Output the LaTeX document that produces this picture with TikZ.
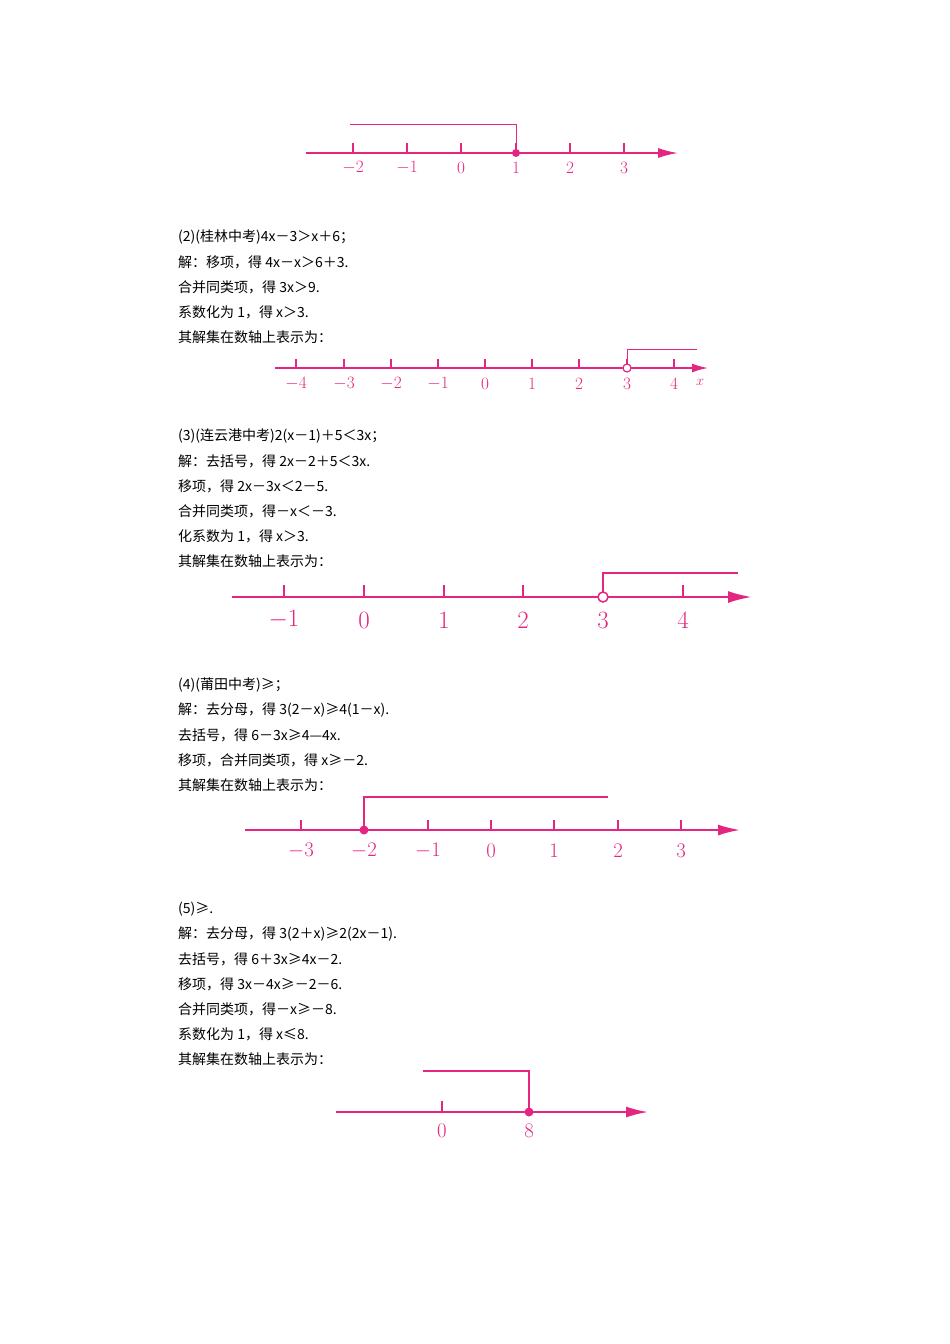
\documentclass[tikz,border=0pt]{standalone}
\usepackage{fontspec}
\newfontfamily\cjk{Noto Sans CJK SC}
\definecolor{mg}{RGB}{228,38,128}
\usetikzlibrary{arrows.meta}
\begin{document}
\begin{tikzpicture}[x=1pt,y=-1pt,
  txt/.style={anchor=west,inner sep=0pt,font=\cjk\fontsize{14}{16}\selectfont},
  ax/.style={draw=mg,line width=1.8pt,-{Latex[length=20pt,width=10pt]}},
  tk/.style={draw=mg,line width=1.2pt},
  br/.style={draw=mg,line width=0.9pt},
  lab/.style={text=mg,inner sep=0pt,anchor=center},
  fdot/.style={circle,fill=mg,inner sep=0pt,minimum size=8pt},
  odot/.style={circle,draw=mg,fill=white,line width=1.2pt,inner sep=0pt,minimum size=8pt}]
\useasboundingbox (0,0) rectangle (950,1344);
% ---- line 1
\draw[ax] (306,153) -- (678,153);
\foreach \x/\l in {353/-2,407/-1,461/0,516/1,570/2,624/3}{
  \draw[tk] (\x,153) -- (\x,143);
  \node[lab,font=\fontsize{16}{16}\selectfont] at (\x,168) {$\l$};}
\node[fdot] (d1) at (516,153) {};
\coordinate (b1a) at (516,124); \coordinate (b1b) at (350,124);
\draw[br] (d1.center) -- (b1a) -- (b1b);
% ---- text 2
\node[txt] (t21) at (178,237) {(2)(桂林中考)4x－3＞x＋6；};
\node[txt] (t22) at (178,262) {解：移项，得 4x－x＞6＋3.};
\node[txt] (t23) at (178,287) {合并同类项，得 3x＞9.};
\node[txt] (t24) at (178,312) {系数化为 1，得 x＞3.};
\node[txt] (t25) at (178,337) {其解集在数轴上表示为：};
\draw[ax,line width=1.6pt,-{Latex[length=16pt,width=9pt]}] (275,368) -- (708,368);
\foreach \x/\l in {296/-4,344/-3,391/-2,438/-1,485/0,532/1,579/2,627/3,674/4}{
  \draw[tk] (\x,368) -- (\x,359);
  \node[lab,font=\fontsize{16}{16}\selectfont] at (\x,384) {$\l$};}
\node[lab,font=\fontsize{14}{14}\selectfont] (xl) at (700,382) {$x$};
\node[odot] (d2) at (627,368) {};
\coordinate (b2a) at (627,349); \coordinate (b2b) at (697,349);
\draw[br] (d2.north) -- (b2a) -- (b2b);
% ---- text 3
\node[txt] (t31) at (178,436) {(3)(连云港中考)2(x－1)＋5＜3x；};
\node[txt] (t32) at (178,461) {解：去括号，得 2x－2＋5＜3x.};
\node[txt] (t33) at (178,486) {移项，得 2x－3x＜2－5.};
\node[txt] (t34) at (178,511) {合并同类项，得－x＜－3.};
\node[txt] (t35) at (178,536) {化系数为 1，得 x＞3.};
\node[txt] (t36) at (178,561) {其解集在数轴上表示为：};
\draw[ax,line width=2.4pt,-{Latex[length=24pt,width=12pt]}] (232,597) -- (752,597);
\foreach \x/\l in {284/-1,364/0,444/1,523/2,603/3,683/4}{
  \draw[tk,line width=1.8pt] (\x,597) -- (\x,585);
  \node[lab,font=\fontsize{23}{23}\selectfont] at (\x,620) {$\l$};}
\node[odot,minimum size=10pt,line width=1.5pt] (d3) at (603,597) {};
\coordinate (b3a) at (603,573); \coordinate (b3b) at (738,573);
\draw[br,line width=1.3pt] (d3.north) -- (b3a) -- (b3b);
% ---- text 4
\node[txt] (t41) at (178,685) {(4)(莆田中考)≥；};
\node[txt] (t42) at (178,710) {解：去分母，得 3(2－x)≥4(1－x).};
\node[txt] (t43) at (178,735) {去括号，得 6－3x≥4—4x.};
\node[txt] (t44) at (178,760) {移项，合并同类项，得 x≥－2.};
\node[txt] (t45) at (178,785) {其解集在数轴上表示为：};
\draw[ax,line width=2pt,-{Latex[length=22pt,width=11pt]}] (245,830) -- (740,830);
\foreach \x/\l in {301/-3,364/-2,428/-1,491/0,554/1,618/2,681/3}{
  \draw[tk,line width=1.4pt] (\x,830) -- (\x,820);
  \node[lab,font=\fontsize{21}{21}\selectfont] at (\x,851) {$\l$};}
\node[fdot,minimum size=9pt] (d4) at (364,830) {};
\coordinate (b4a) at (364,797); \coordinate (b4b) at (608,797);
\draw[br,line width=1.2pt] (d4.center) -- (b4a) -- (b4b);
% ---- text 5
\node[txt] (t51) at (178,909) {(5)≥.};
\node[txt] (t52) at (178,934) {解：去分母，得 3(2＋x)≥2(2x－1).};
\node[txt] (t53) at (178,959) {去括号，得 6＋3x≥4x－2.};
\node[txt] (t54) at (178,984) {移项，得 3x－4x≥－2－6.};
\node[txt] (t55) at (178,1009) {合并同类项，得－x≥－8.};
\node[txt] (t56) at (178,1034) {系数化为 1，得 x≤8.};
\node[txt] (t57) at (178,1059) {其解集在数轴上表示为：};
\draw[ax,line width=2pt,-{Latex[length=22pt,width=11pt]}] (336,1112) -- (648,1112);
\foreach \x/\l in {442/0,529/8}{
  \draw[tk,line width=1.4pt] (\x,1112) -- (\x,1101);
  \node[lab,font=\fontsize{21}{21}\selectfont] at (\x,1131) {$\l$};}
\node[fdot,minimum size=9pt] (d5) at (529,1112) {};
\coordinate (b5a) at (529,1071); \coordinate (b5b) at (423,1071);
\draw[br,line width=1.2pt] (d5.center) -- (b5a) -- (b5b);
\end{tikzpicture}
\end{document}
